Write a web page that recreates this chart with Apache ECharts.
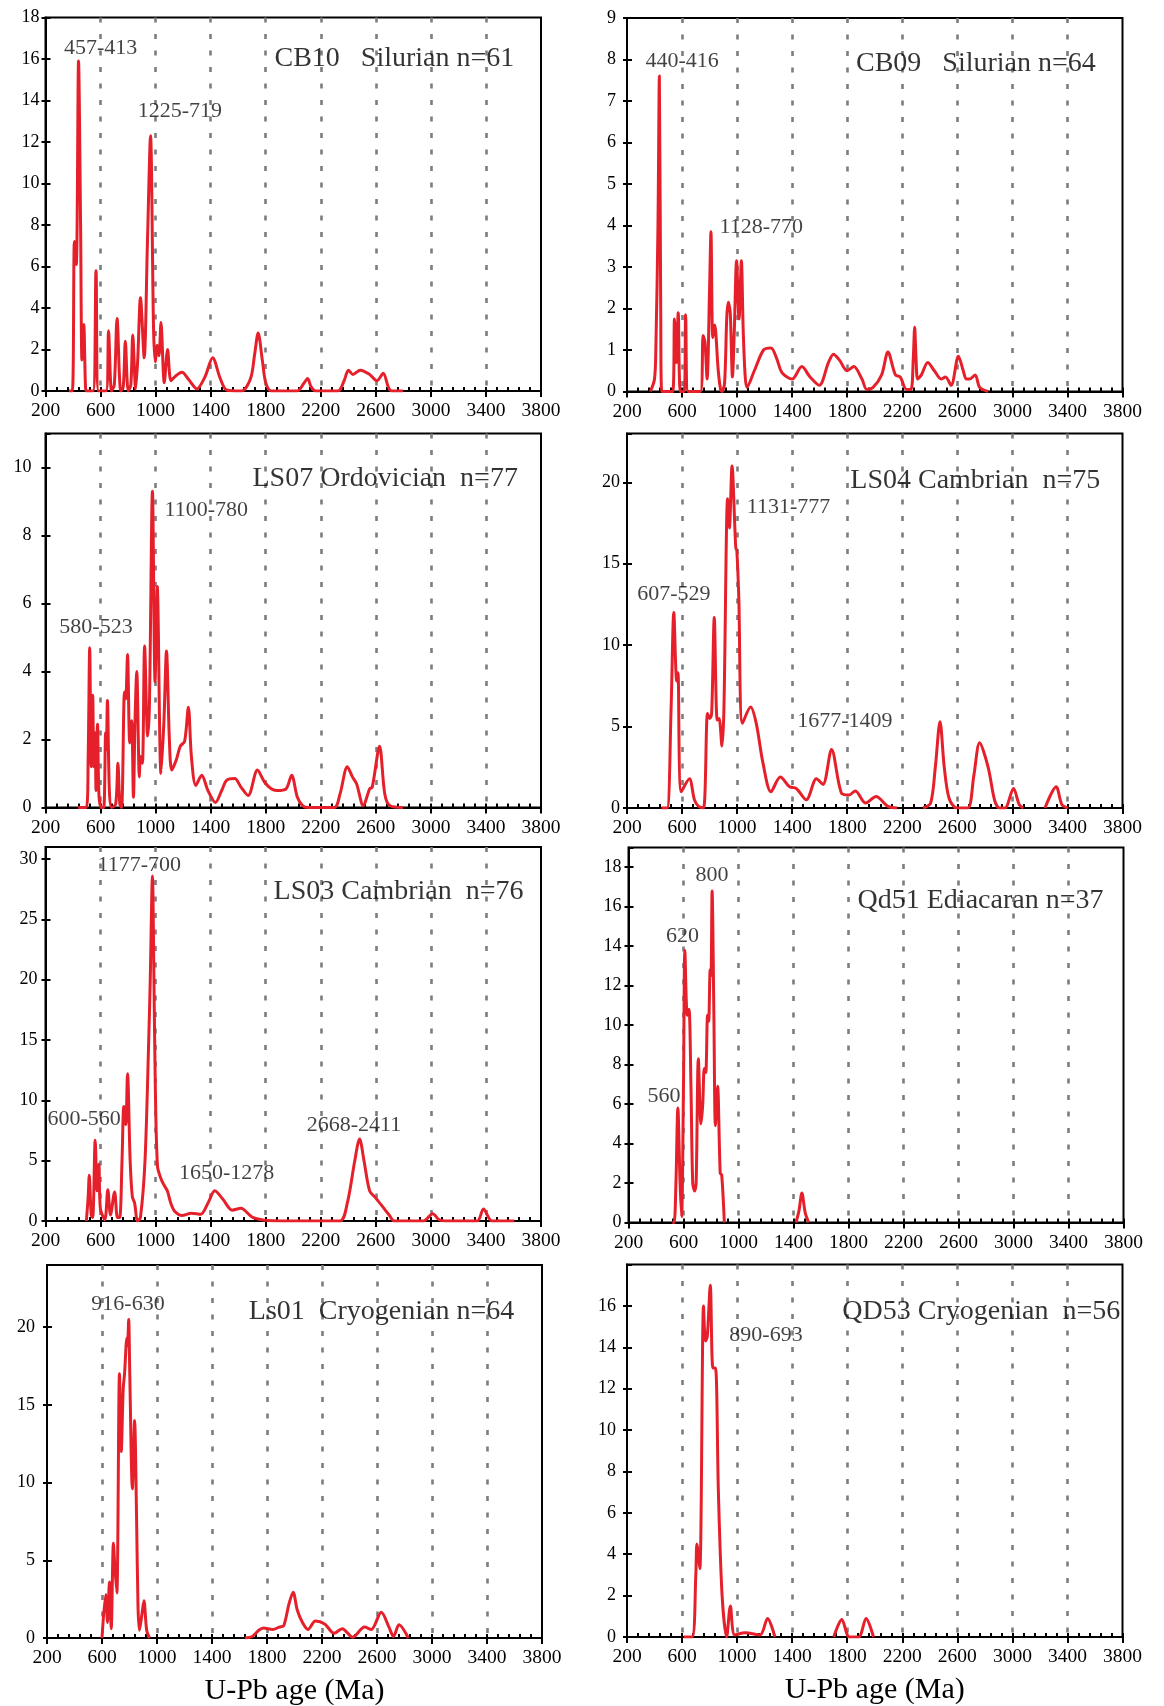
<!DOCTYPE html>
<html><head><meta charset="utf-8">
<script src="https://cdn.jsdelivr.net/npm/echarts@6/dist/echarts.min.js"></script>
<style>html,body{margin:0;padding:0;background:#fff}#chart{width:1164px;height:1706px}</style>
</head><body><div id="chart"></div>
<script>
// ---------- data ----------
const ageTicks = [200, 600, 1000, 1400, 1800, 2200, 2600, 3000, 3400, 3800];
const xTitle = 'U-Pb age (Ma)';

const cb10Title = 'CB10   Silurian n=61';
const cb10Notes = ['457-413', '1225-719'];
const cb10Age  = [370,395,410,424,440,455,465,478,490,497,545,567,586,640,658,680,700,720,747,765,780,801,820,834,855,870,890,917,940,963,985,998,1012,1025,1039,1063,1087,1112,1150,1192,1240,1300,1360,1414,1470,1516,1624,1690,1720,1745,1775,1800,1840,2028,2080,2104,2130,2163,2325,2370,2401,2433,2487,2555,2608,2654,2690,2716,2797];
const cb10Prob = [0,0,7.2,6.1,15.9,8,1.5,3.2,0.3,0,0,5.8,0,0,2.9,0,0.3,3.5,0,0.2,2.4,0,0.3,2.7,0.1,1.5,4.5,1.6,7,12.3,3,1.4,2.2,1.7,3.3,0.4,2.0,0.5,0.75,0.9,0.55,0.1,0.7,1.6,0.6,0.05,0,0.6,1.8,2.8,1.5,0.4,0,0,0.4,0.6,0.2,0,0,0.5,1.0,0.8,1.0,0.8,0.5,0.85,0.2,0,0];

const cb09Title = 'CB09   Silurian n=64';
const cb09Notes = ['440-416', '1128-770'];
const cb09Age  = [370,400,410,425,435,445,453,532,545,559,572,588,615,626,645,734,753,766,782,800,810,823,837,863,880,890,909,925,936,950,966,980,996,1014,1031,1044,1058,1071,1125,1192,1246,1287,1327,1400,1470,1530,1597,1664,1700,1745,1799,1848,1907,1942,1988,2050,2096,2150,2185,2231,2263,2280,2290,2300,2312,2339,2385,2433,2482,2514,2555,2608,2643,2665,2690,2730,2762,2824];
const cb09Prob = [0,0.3,1.1,4,7.6,2,0,0,1.75,0.7,1.9,0,0,1.85,0,0,1.35,1.2,0.3,2.5,3.85,1.3,1.6,0.5,0.05,0,0.2,1.8,2.15,1.9,0.35,1.5,3.15,1.75,3.15,1.5,0.4,0.1,0.5,1.0,1.05,0.8,0.45,0.3,0.6,0.35,0.15,0.7,0.9,0.75,0.5,0.6,0.3,0.05,0.1,0.4,0.95,0.4,0.35,0.05,0.05,0.8,1.55,0.8,0.3,0.4,0.7,0.5,0.3,0.35,0.15,0.85,0.5,0.3,0.3,0.4,0.1,0];

const ls07Title = 'LS07 Ordovician  n=77';
const ls07Notes = ['580-523', '1100-780'];
const ls07Age  = [437,497,510,521,532,543,551,561,567,578,588,605,623,637,642,650,664,680,710,726,740,753,774,783,796,812,826,839,850,863,882,890,904,920,942,955,977,996,1012,1039,1060,1079,1100,1117,1150,1179,1211,1238,1260,1292,1335,1380,1435,1480,1516,1575,1620,1672,1740,1791,1840,1880,1948,1988,2030,2069,2110,2298,2340,2393,2430,2460,2509,2555,2574,2627,2665,2703,2797];
const ls07Prob = [0,0,1.5,4.7,1.2,3.3,1.2,2.2,0.5,2.45,0.4,0,0,2.2,1.7,3.15,0.5,0,0.1,1.3,0.1,0,3.4,3.2,4.5,1.9,2.55,0.3,2.5,4.0,0.9,1.5,1.3,4.75,2.1,3.0,9.3,3.7,6.5,1.0,2.5,4.6,2,1.1,1.4,1.8,1.95,2.95,1.5,0.65,0.95,0.5,0.15,0.5,0.8,0.85,0.6,0.35,1.1,0.75,0.55,0.5,0.55,0.95,0.3,0.05,0,0,0.4,1.2,0.9,0.7,0.05,0.55,0.6,1.8,0.4,0.05,0];

const ls04Title = 'LS04 Cambrian  n=75';
const ls04Notes = ['607-529', '1131-777', '1677-1409'];
const ls04Age  = [451,491,520,540,561,570,594,653,690,720,756,785,801,815,834,855,869,890,904,931,944,963,990,998,1012,1039,1098,1139,1187,1246,1314,1381,1430,1503,1576,1624,1686,1759,1813,1859,1934,2010,2096,2163,2250,2352,2406,2440,2474,2505,2540,2595,2676,2720,2762,2824,2870,2905,2946,3008,3050,3080,3150,3237,3318,3360,3404];
const ls04Prob = [0,0,6,12,7.8,8.3,1.0,1.8,0.5,0.1,0,5.8,5.5,5.8,11.7,5.4,5.5,3.8,6,19,17.2,21,16,15.8,13,5.2,6.2,5.2,2.8,1.0,1.9,1.3,1.2,0.5,1.8,1.45,3.6,0.9,0.8,1.05,0.3,0.7,0.1,0,null,0,0.3,2.5,5.3,2.5,0.6,0,0,2,4.0,2.5,0.5,0,0,1.2,0.2,0,null,0,1.3,0.2,0];

const ls03Title = 'LS03 Cambrian  n=76';
const ls03Notes = ['1177-700', '600-560', '1650-1278', '2668-2411'];
const ls03Age  = [497,510,518,532,543,561,575,588,599,631,653,672,702,723,739,756,769,783,796,815,831,847,869,890,923,950,961,977,988,998,1014,1039,1060,1085,1110,1139,1192,1260,1327,1381,1430,1489,1557,1619,1705,1813,2029,2339,2393,2447,2482,2514,2555,2600,2662,2697,2735,2946,3013,3060,3107,3336,3382,3444,3606];
const ls03Prob = [0,2,3.8,0.5,0.3,6.7,2.5,4.7,1.0,0.1,2.6,0.5,2.4,0.3,0.3,5,9.5,8,12.2,5,2,1.5,0,0.3,5,15,20,28.6,20,11,4.5,3.5,3.0,2.5,1.5,0.8,0.45,0.65,0.55,1.5,2.5,1.8,0.9,1.05,0.3,0.05,0,0,1.5,5,6.8,5,2.5,1.9,1.0,0.5,0,0,0.6,0.1,0,0,1.0,0,0];

const qd51Title = 'Qd51 Ediacaran n=37';
const qd51Notes = ['800', '620', '560'];
const qd51Age  = [519,532,545,559,575,586,600,610,627,640,654,667,681,692,708,727,740,751,762,775,783,794,800,808,821,832,848,867,878,897,1200,1418,1440,1461,1485,1510];
const qd51Prob = [0,0,2,5.8,2,0.3,7,13.8,10.5,10.8,7,2,1.6,2,8.3,5,6,7.8,7.6,10.5,10.2,12.8,12.5,16.8,10.5,4.9,6.9,2.5,2.4,0,null,0,0.6,1.5,0.5,0];

const ls01Title = 'Ls01  Cryogenian n=64';
const ls01Notes = ['916-630'];
const ls01Age  = [600,627,640,654,667,683,694,708,727,740,754,764,781,786,794,802,821,837,851,862,872,890,905,925,946,1300,1639,1693,1740,1774,1841,1890,1922,1960,1990,2020,2058,2098,2152,2220,2288,2347,2423,2509,2558,2631,2687,2720,2760,2828];
const ls01Prob = [0,2.8,1.0,3.6,0.6,6.1,4.5,2.9,17,12,16,17,19.3,18.8,20.5,17,9.6,14,8,2,0.5,1.5,2.4,0.5,0,null,0,0.1,0.5,0.65,0.55,0.7,0.8,2.2,2.95,1.8,1.0,0.55,1.1,0.9,0.3,0.6,0.05,0.7,0.55,1.65,0.7,0.1,0.85,0];

const qd53Title = 'QD53 Cryogenian  n=56';
const qd53Notes = ['890-693'];
const qd53Age  = [613,673,700,708,729,756,770,783,805,824,843,864,891,924,951,983,1059,1167,1221,1275,1500,1702,1761,1815,1883,1937,1991];
const qd53Prob = [0,0,3,4.5,3.3,16,14.3,14.5,17,13,13,7,2,0,1.5,0.1,0.2,0.1,0.9,0,null,0,0.85,0,0,0.9,0];

// ---------- layout ----------
const panels = [
  {title: cb10Title, age: cb10Age, prob: cb10Prob, notes: cb10Notes, box: [45.5, 17.5, 495.5, 373.5], yMax: 18, yStep: 2, yGap: 6, titleAt: [2735, 16], notesAt: [[600, 16.5], [1176, 13.5]]},
  {title: cb09Title, age: cb09Age, prob: cb09Prob, notes: cb09Notes, box: [627, 18, 495.5, 373.5], yMax: 9, yStep: 1, yGap: 11, titleAt: [2735, 7.9], notesAt: [[600, 7.95], [1176, 3.97]]},
  {title: ls07Title, age: ls07Age, prob: ls07Prob, notes: ls07Notes, box: [45.5, 433.5, 495.5, 374], yMax: 11, yStep: 2, yGap: 14, titleAt: [2668, 9.66], notesAt: [[567, 5.3], [1368, 8.75]]},
  {title: ls04Title, age: ls04Age, prob: ls04Prob, notes: ls04Notes, box: [627, 433.5, 495.5, 374.5], yMax: 23, yStep: 5, yGap: 7, titleAt: [2730, 20.1], notesAt: [[540, 13.1], [1373, 18.5], [1783, 5.3]]},
  {title: ls03Title, age: ls03Age, prob: ls03Prob, notes: ls03Notes, box: [45.5, 847, 495.5, 374], yMax: 31, yStep: 5, yGap: 8, titleAt: [2765, 27.3], notesAt: [[882, 29.5], [480, 8.4], [1516, 3.95], [2441, 7.96]]},
  {title: qd51Title, age: qd51Age, prob: qd51Prob, notes: qd51Notes, box: [628.5, 847.5, 495, 375], yMax: 19, yStep: 2, yGap: 7, titleAt: [2760, 16.3], notesAt: [[808, 17.6], [592, 14.5], [459, 6.4]]},
  {title: ls01Title, age: ls01Age, prob: ls01Prob, notes: ls01Notes, box: [47, 1265, 495, 373], yMax: 24, yStep: 5, yGap: 12, titleAt: [2633, 21.0], notesAt: [[789, 21.5]], xName: true},
  {title: qd53Title, age: qd53Age, prob: qd53Prob, notes: qd53Notes, box: [627, 1264.5, 495.5, 372.5], yMax: 18, yStep: 2, yGap: 11, titleAt: [2774, 15.7], notesAt: [[1210, 14.6]], xName: true}
];

const SERIF = '"Liberation Serif", "Times New Roman", serif';
const RED = '#e5202a';
const INK = '#000';
const grids = [], xAxes = [], yAxes = [], series = [];

panels.forEach((p, i) => {
  grids.push({left: p.box[0], top: p.box[1], width: p.box[2], height: p.box[3],
    show: true, borderColor: '#000', borderWidth: 2, backgroundColor: 'transparent',
    containLabel: false, outerBoundsMode: 'none'});
  const xMin = ageTicks[0], xMax = ageTicks[ageTicks.length - 1], xStep = ageTicks[1] - ageTicks[0];
  xAxes.push({gridIndex: i, type: 'value', min: xMin, max: xMax, interval: xStep, position: 'bottom',
    axisLine: {show: true, onZero: false, lineStyle: {color: '#000', width: 2}},
    axisTick: {show: true, inside: false, length: 6, lineStyle: {color: '#000', width: 2}},
    minorTick: {show: false},
    axisLabel: {show: true, fontSize: 19.5, color: INK, fontFamily: SERIF, margin: 10,
      showMinLabel: true, showMaxLabel: true, formatter: v => String(v)},
    splitLine: {show: true, showMinLine: false, showMaxLine: false, lineStyle: {color: '#7d7d7d', width: 2.6, type: [5, 11.5]}},
    name: p.xName ? xTitle : '', nameLocation: 'middle', nameGap: 38,
    nameTextStyle: {fontSize: 30, color: INK, fontFamily: SERIF}
  });
  xAxes.push({gridIndex: i, type: 'value', min: xMin, max: xMax, interval: xStep, position: 'bottom',
    axisLine: {show: false}, axisLabel: {show: false}, splitLine: {show: false},
    axisTick: {show: true, inside: true, length: 4, lineStyle: {color: '#000', width: 2}},
    minorTick: {show: true, splitNumber: 5, length: 4, lineStyle: {color: '#000', width: 2}}
  });
  yAxes.push({gridIndex: i, type: 'value', min: 0, max: p.yMax, interval: p.yStep, position: 'left',
    axisLine: {show: true, onZero: false, lineStyle: {color: '#000', width: 2}},
    axisTick: {show: true, inside: false, length: 4, lineStyle: {color: '#000', width: 2}},
    axisLabel: {show: true, fontSize: 18, color: INK, fontFamily: SERIF, margin: p.yGap,
      showMaxLabel: (p.yMax % p.yStep === 0 && p.yMax !== 18) || i === 0},
    splitLine: {show: false}
  });
  yAxes.push({gridIndex: i, type: 'value', min: 0, max: p.yMax, interval: p.yStep, position: 'left',
    axisLine: {show: false}, axisLabel: {show: false}, splitLine: {show: false},
    axisTick: {show: true, inside: true, length: 5, lineStyle: {color: '#000', width: 2}}
  });
  const data = p.age.map((a, k) => [a, p.prob[k] == null ? '-' : p.prob[k]]);
  series.push({type: 'line', xAxisIndex: 2 * i, yAxisIndex: 2 * i, data: data,
    showSymbol: false, smooth: 0.3, connectNulls: false, clip: true, silent: true, z: 5,
    lineStyle: {color: RED, width: 3, join: 'round'}, animation: false});
  const noteData = p.notes.map((t, k) => ({name: t, value: p.notesAt[k]}));
  noteData.push({name: p.title, value: p.titleAt, label: {fontSize: 28, color: INK}});
  series.push({type: 'scatter', xAxisIndex: 2 * i, yAxisIndex: 2 * i, data: noteData,
    symbolSize: 0, silent: true, z: 6, animation: false, clip: false,
    itemStyle: {color: 'rgba(0,0,0,0)'},
    label: {show: true, position: 'inside', formatter: '{b}', fontSize: 22, color: '#111', fontFamily: SERIF}});
});

const chart = echarts.init(document.getElementById('chart'), null, {renderer: 'canvas'});
chart.setOption({backgroundColor: '#fff', animation: false, grid: grids, xAxis: xAxes, yAxis: yAxes, series: series});
</script></body></html>
